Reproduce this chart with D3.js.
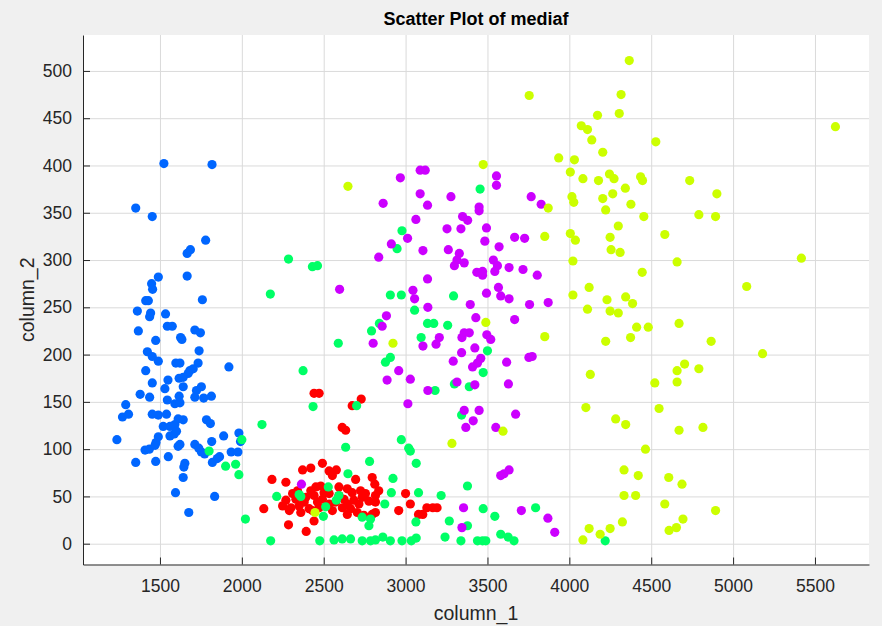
<!DOCTYPE html>
<html>
<head>
<meta charset="utf-8">
<script src="https://cdn.jsdelivr.net/npm/d3@7"></script>
<style>
  body { margin: 0; background: #f0f0f0; }
  svg { display: block; font-family: "Liberation Sans", Arial, Helvetica, sans-serif; }
</style>
</head>
<body>
<svg id="chart" width="882" height="626"></svg>
<script>
// points, one array per cluster: [column_1, column_2]
const bluePts = [
  [1524,402],[1818,401],[1352,355],[1453,346],[1779,321],[1666,307],[1686,311],[1490,282],[1449,275],[1455,269],
  [1666,283],[1759,258],[1413,257],[1429,257],[1362,246],[1443,244],[1437,240],[1534,243],[1545,230],[1575,230],
  [1368,225],[1713,226],[1747,223],[1474,215],[1626,218],[1634,216],[1739,204],[1423,203],[1453,198],[1490,193],
  [1597,191],[1622,191],[1733,191],[1921,187],[1413,183],[1703,185],[1682,183],[1672,180],[1453,170],[1549,173],
  [1617,175],[1642,176],[1530,164],[1642,166],[1753,166],[1723,162],[1379,158],[1437,155],[1545,152],[1591,148],
  [1622,149],[1617,156],[1713,155],[1814,156],[1767,154],[1291,147],[1271,134],[1308,137],[1453,137],[1490,136],
  [1540,137],[1520,124],[1561,124],[1591,126],[1642,131],[1611,132],[1784,131],[1808,127],[1237,110],[1490,113],
  [1476,107],[1561,114],[1587,116],[1601,119],[1622,105],[1611,103],[1713,105],[1737,101],[1753,97],[1773,95],
  [1889,114],[1982,117],[1992,108],[1816,108],[1409,99],[1435,100],[1470,104],[1551,92],[1352,86],[1474,87],
  [1652,85],[1646,81],[1642,70],[1820,86],[1850,90],[1864,92],[1935,97],[1976,97],[1595,54],[1834,50],[1676,33]
];

const redPts = [
  [2441,159],[2472,159],[2674,146],[2729,153],[2613,123],[2634,120],[2492,85],[2371,78],[2421,80],[2533,77],
  [2577,78],[2553,72],[2184,68],[2269,65],[2695,68],[2796,70],[2812,63],[2452,60],[2482,61],[2421,56],
  [2593,60],[2644,58],[2674,54],[2310,53],[2330,47],[2269,46],[2391,49],[2441,51],[2492,47],[2533,53],
  [2573,44],[2624,47],[2684,46],[2735,49],[2755,53],[2816,51],[2836,56],[2249,40],[2300,38],[2350,40],
  [2411,37],[2472,38],[2533,42],[2614,38],[2664,37],[2715,42],[2816,44],[2776,45],[2290,35],[2360,33],
  [2431,35],[2553,35],[2644,31],[2705,33],[2796,31],[2134,37],[2441,24],[2285,20],[2393,13],[3000,53],
  [3029,42],[2958,35],[3079,31],[3130,38],[2462,44],[2502,54],[2381,44],[2593,51],[2644,42],[2816,33],
  [2745,30],[2725,56],[2340,56],[3166,38],[3192,38],[3105,31]
];

const greenPts = [
  [2374,183],[2435,145],[2701,146],[2123,126],[2634,102],[2974,110],[3019,101],[3029,98],[2780,87],[3065,85],
  [1962,84],[1982,73],[1901,82],[1800,98],[2000,110],[2648,74],[2923,69],[2528,60],[2360,50],[2350,52],
  [2593,51],[2577,46],[2213,50],[2913,54],[3079,54],[2512,39],[2873,42],[2498,29],[2735,28],[2786,26],
  [2776,19],[2022,26],[3063,23],[2176,3],[2476,3],[2563,4],[2613,5],[2664,5],[2735,3],[2786,3],
  [2816,4],[2861,7],[2907,3],[2978,3],[3035,3],[3065,6],[3474,181],[3180,162],[3298,169],[3389,166],
  [3342,136],[3378,61],[3217,51],[3474,37],[3545,29],[3267,24],[3378,19],[3794,38],[3241,7],[3338,3],
  [3439,3],[3470,3],[3490,3],[3581,10],[3626,7],[3662,3],[4219,3],[2978,331],[2948,312],[2285,301],
  [2431,293],[2462,294],[2174,264],[2907,263],[2974,263],[3055,247],[3134,233],[2840,233],[2792,225],[3095,218],
  [2589,212],[2907,197],[2877,192],[3455,375],[3293,262],[3172,233],[3257,231],[3500,204]
];

const purplePts = [
  [2887,173],[2958,183],[3029,174],[3014,148],[3136,162],[2364,63],[3314,171],[3423,168],[3628,169],[3358,141],
  [3449,141],[3413,130],[3368,123],[3672,137],[3551,123],[3632,78],[3581,72],[3601,74],[3354,38],[3344,17],
  [3707,35],[3869,27],[3911,12],[2968,387],[3089,395],[3120,395],[2863,360],[3089,370],[3134,358],[3063,343],
  [3012,323],[2913,317],[3106,310],[2836,303],[3134,280],[2597,269],[3045,268],[3055,259],[3136,250],[2883,241],
  [2857,230],[2802,212],[3106,209],[3277,367],[3555,389],[3555,379],[3767,367],[3828,359],[3449,356],[3449,352],
  [3348,346],[3379,342],[3253,333],[3338,333],[3494,334],[3484,320],[3666,324],[3727,323],[3571,314],[3261,311],
  [3328,307],[3314,300],[3298,294],[3358,297],[3536,300],[3561,294],[3545,288],[3632,292],[3717,290],[3435,287],
  [3470,288],[3470,284],[3804,284],[3567,271],[3494,265],[3581,262],[3632,259],[3871,255],[3757,253],[3395,253],
  [3429,239],[3666,237],[3358,223],[3389,223],[3344,218],[3496,221],[3520,216],[3206,218],[3186,211],[3423,207],
  [3342,202],[3459,196],[3439,191],[3409,187],[3291,193],[3617,192],[3753,197],[3773,198]
];

const yellowPts = [
  [2648,378],[2923,212],[2447,33],[3595,119],[3283,106],[3474,401],[3490,234],[3755,474],[3935,408],[4031,406],
  [4006,393],[4016,367],[4027,361],[3871,355],[3850,325],[4006,328],[4037,321],[4022,299],[4022,263],[3850,219],
  [4366,511],[4316,475],[4172,453],[4305,455],[4073,442],[4111,438],[4137,427],[4528,425],[4204,414],[4083,386],
  [4178,384],[4245,391],[4273,386],[4435,388],[4447,384],[4735,384],[4204,365],[4265,370],[4342,376],[4376,359],
  [4222,353],[4455,346],[4791,348],[4901,370],[4893,346],[4299,336],[4249,324],[4583,327],[4255,311],[4310,308],
  [4658,298],[4445,287],[4121,271],[5083,272],[4230,258],[4344,261],[4386,254],[4111,248],[4249,246],[4299,244],
  [4411,229],[4482,229],[4670,233],[4222,214],[4374,218],[4866,214],[5180,201],[4704,190],[4658,183],[4791,185],
  [4128,179],[4522,170],[4658,171],[4101,144],[4548,143],[4283,132],[4344,126],[4670,120],[4816,123],[4465,100],
  [4334,78],[4421,72],[4607,70],[4688,63],[4334,51],[4405,51],[4583,42],[4893,35],[4121,16],[4249,16],
  [4324,23],[4188,10],[4083,4],[4694,26],[4654,17],[4609,14],[5625,441],[5417,302]
];

const xTicks = [1500, 2000, 2500, 3000, 3500, 4000, 4500, 5000, 5500];
const yTicks = [0, 50, 100, 150, 200, 250, 300, 350, 400, 450, 500];

const svg = d3.select('#chart');

// axes box in pixels
const boxL = 83, boxR = 869, boxT = 35, boxB = 564.5;

const xScale = d3.scaleLinear().domain([1030, 5830]).range([boxL, boxR]);
const yScale = d3.scaleLinear().domain([-22, 538]).range([boxB, boxT]);

// white axes area
svg.append('rect')
  .attr('x', boxL).attr('y', boxT)
  .attr('width', boxR - boxL).attr('height', boxB - boxT)
  .attr('fill', '#ffffff');

// grid
svg.append('g')
  .attr('transform', `translate(0,${boxB})`)
  .call(d3.axisBottom(xScale).tickValues(xTicks).tickSize(-(boxB - boxT)).tickFormat(''))
  .call(g => g.select('.domain').remove())
  .call(g => g.selectAll('line').attr('stroke', '#dadada'));

svg.append('g')
  .attr('transform', `translate(${boxL},0)`)
  .call(d3.axisLeft(yScale).tickValues(yTicks).tickSize(-(boxR - boxL)).tickFormat(''))
  .call(g => g.select('.domain').remove())
  .call(g => g.selectAll('line').attr('stroke', '#dadada'));

// points
const groups = [
  { pts: bluePts, color: '#0066ff' },
  { pts: redPts, color: '#ff0000' },
  { pts: greenPts, color: '#00ff66' },
  { pts: purplePts, color: '#cc00ff' },
  { pts: yellowPts, color: '#ccff00' }
];

groups.forEach(grp => {
  svg.append('g')
    .selectAll('circle')
    .data(grp.pts)
    .enter().append('circle')
    .attr('cx', d => xScale(d[0]))
    .attr('cy', d => yScale(d[1]))
    .attr('r', 4.6)
    .attr('fill', grp.color);
});

// axes, ticks pointing inward
const xAxis = svg.append('g')
  .attr('transform', `translate(0,${boxB})`)
  .call(d3.axisBottom(xScale).tickValues(xTicks).tickFormat(d3.format('d'))
    .tickSizeInner(-7).tickSizeOuter(0).tickPadding(15));

const yAxis = svg.append('g')
  .attr('transform', `translate(${boxL},0)`)
  .call(d3.axisLeft(yScale).tickValues(yTicks).tickFormat(d3.format('d'))
    .tickSizeInner(-7).tickSizeOuter(0).tickPadding(11));

[xAxis, yAxis].forEach(ax => {
  ax.select('.domain').attr('stroke', '#262626');
  ax.selectAll('line').attr('stroke', '#262626');
  ax.selectAll('text').attr('fill', '#262626').style('font-size', '17.5px');
});

// titles
svg.append('text')
  .attr('x', (boxL + boxR) / 2).attr('y', 25)
  .attr('text-anchor', 'middle')
  .style('font-size', '18px').style('font-weight', 'bold')
  .attr('fill', '#000')
  .text('Scatter Plot of mediaf');

svg.append('text')
  .attr('x', (boxL + boxR) / 2).attr('y', 620)
  .attr('text-anchor', 'middle')
  .style('font-size', '19.5px')
  .attr('fill', '#262626')
  .text('column_1');

svg.append('text')
  .attr('transform', `translate(34,${(boxT + boxB) / 2}) rotate(-90)`)
  .attr('text-anchor', 'middle')
  .style('font-size', '19.5px')
  .attr('fill', '#262626')
  .text('column_2');
</script>
</body>
</html>
